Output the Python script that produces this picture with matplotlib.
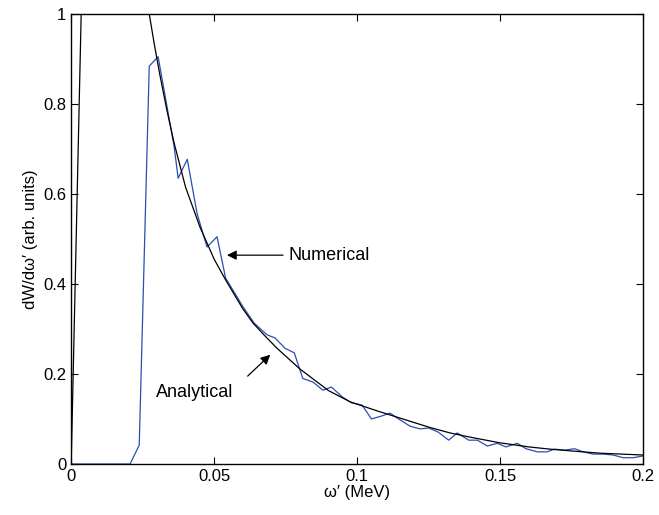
import matplotlib
matplotlib.use("Agg")
import matplotlib.pyplot as plt

plt.rcParams['font.family'] = ['Liberation Sans', 'DejaVu Sans']

# --- numerical (blue) ---
num_x = [0, 0.0206, 0.0238, 0.0273, 0.0304, 0.036, 0.0374, 0.0406, 0.044, 0.0475, 0.051,
         0.054, 0.060, 0.064, 0.0685, 0.0713, 0.0748, 0.078, 0.081, 0.0846, 0.088, 0.091,
         0.0948, 0.098, 0.1017, 0.105, 0.1087, 0.1115, 0.115, 0.1185, 0.122, 0.125, 0.1283,
         0.132, 0.135, 0.139, 0.142, 0.1455, 0.149, 0.152, 0.156, 0.159, 0.163, 0.1664,
         0.169, 0.1727, 0.176, 0.179, 0.1825, 0.186, 0.1895, 0.193, 0.1965, 0.2]
num_y = [0, 0, 0.042, 0.884, 0.905, 0.705, 0.635, 0.677, 0.557, 0.482, 0.505,
         0.413, 0.35, 0.313, 0.287, 0.28, 0.257, 0.247, 0.19, 0.182, 0.164, 0.171,
         0.149, 0.136, 0.131, 0.1, 0.107, 0.113, 0.098, 0.084, 0.078, 0.08, 0.071,
         0.053, 0.069, 0.053, 0.053, 0.04, 0.046, 0.038, 0.046, 0.034, 0.027, 0.027,
         0.033, 0.031, 0.034, 0.027, 0.022, 0.022, 0.02, 0.014, 0.014, 0.018]

# --- analytical (black), two branches ---
low_x = [0, 0.0035]
low_y = [0, 1.0]
ana_x = [0.0273, 0.029, 0.031, 0.0335, 0.036, 0.04, 0.045, 0.05, 0.054, 0.06, 0.0636,
         0.068, 0.072, 0.080, 0.09, 0.0976, 0.107, 0.115, 0.125, 0.1325, 0.14, 0.15,
         0.16, 0.1675, 0.175, 0.185, 0.2]
ana_y = [1.0, 0.935, 0.865, 0.785, 0.713, 0.615, 0.527, 0.455, 0.409, 0.345, 0.313,
         0.283, 0.257, 0.211, 0.163, 0.138, 0.118, 0.102, 0.082, 0.069, 0.059, 0.047,
         0.038, 0.033, 0.029, 0.024, 0.02]

fig = plt.figure(figsize=(6.59, 5.15), dpi=100)
ax = fig.add_axes([0.108, 0.099, 0.868, 0.874])
ax.plot(num_x, num_y, color="#2a4fb0", linewidth=0.9)
ax.plot(low_x, low_y, color="black", linewidth=0.9)
ax.plot(ana_x, ana_y, color="black", linewidth=0.9)

ax.set_xlim(0, 0.2)
ax.set_ylim(0, 1)
ax.set_xticks([0, 0.05, 0.1, 0.15, 0.2])
ax.set_xticklabels(["0", "0.05", "0.1", "0.15", "0.2"])
ax.set_yticks([0, 0.2, 0.4, 0.6, 0.8, 1])
ax.set_yticklabels(["0", "0.2", "0.4", "0.6", "0.8", "1"])
ax.tick_params(direction="in", top=True, right=True, labelsize=12, length=5)
for s in ax.spines.values():
    s.set_linewidth(1.0)
ax.set_xlabel("ω′ (MeV)", fontsize=12, labelpad=1)
ax.set_ylabel("dW/dω′ (arb. units)", fontsize=12, labelpad=4)

ax.annotate("Numerical", xy=(0.0535, 0.464), xytext=(0.076, 0.464), fontsize=13,
            va="center", ha="left",
            arrowprops=dict(arrowstyle="-|>", color="black", lw=0.9, mutation_scale=14))
ax.annotate("", xy=(0.0703, 0.247), xytext=(0.061, 0.191),
            arrowprops=dict(arrowstyle="-|>", color="black", lw=0.9, mutation_scale=14))
ax.text(0.0295, 0.158, "Analytical", fontsize=13, va="center", ha="left")

fig.savefig("out.png", dpi=100)
